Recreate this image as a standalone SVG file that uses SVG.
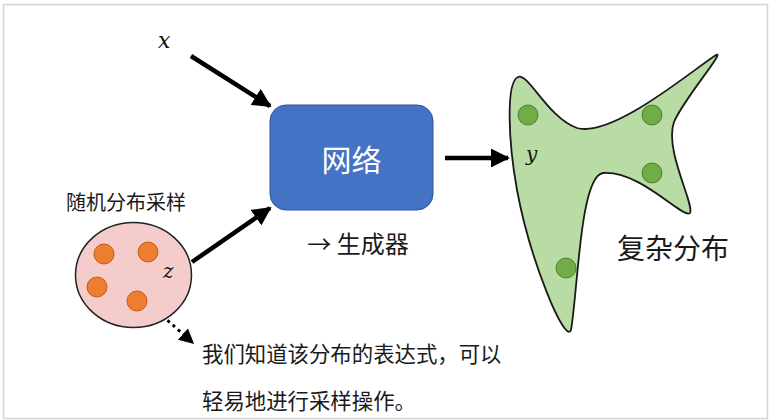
<svg xmlns="http://www.w3.org/2000/svg" width="771" height="420" viewBox="0 0 771 420">
<defs>
<style>
.cn{font-family:"Noto Sans CJK SC","Noto Sans",sans-serif;fill:#1a1a1a}
.var{font-family:"DejaVu Serif","Liberation Serif",serif;font-style:italic;fill:#111}
.arr{stroke:#000;stroke-width:4.5;fill:none}
.odot{fill:#ED7D31;stroke:#C55A11;stroke-width:1}
.gdot{fill:#70AD47;stroke:#507E32;stroke-width:1}
</style>
<marker id="ah" viewBox="0 0 10 10" refX="9" refY="5" markerWidth="4.2" markerHeight="4.2" orient="auto" markerUnits="strokeWidth">
<path d="M0,0 L10,5 L0,10 Z" fill="#000"/>
</marker>
<marker id="ahd" viewBox="0 0 10 10" refX="9" refY="5" markerWidth="5" markerHeight="5" orient="auto" markerUnits="strokeWidth">
<path d="M0,0 L10,5 L0,10 Z" fill="#000"/>
</marker>
</defs>
<rect x="0" y="0" width="771" height="420" fill="#fff"/>
<rect x="3.5" y="4.5" width="764" height="414" fill="none" stroke="#d4d4d4" stroke-width="1.5"/>

<g id="connectors">
<line class="arr" x1="191" y1="56" x2="270" y2="106" marker-end="url(#ah)"/>
<line class="arr" x1="192" y1="262" x2="270" y2="208" marker-end="url(#ah)"/>
<line class="arr" x1="445" y1="158" x2="508" y2="158" marker-end="url(#ah)"/>
<line x1="157" y1="311" x2="193" y2="343" stroke="#000" stroke-width="3" stroke-dasharray="3,4" marker-end="url(#ahd)"/>
</g>

<g id="x-label"><text class="var" x="158" y="48" font-size="22">x</text></g>

<g id="network">
<rect x="270" y="105" width="163" height="105" rx="16" fill="#4472C4" stroke="#2F528F" stroke-width="1"/>
<text x="351.5" y="171" text-anchor="middle" font-size="30" font-family="Noto Sans CJK SC,sans-serif" fill="#fff">网络</text>
</g>
<g id="generator-label"><text class="cn" x="358" y="253" text-anchor="middle" font-size="24">→ 生成器</text></g>

<g id="sampling">
<text class="cn" x="126" y="210" text-anchor="middle" font-size="20">随机分布采样</text>
<ellipse cx="133.5" cy="275" rx="58" ry="52.5" fill="#F5CCCC" stroke="#222" stroke-width="1.5"/>
<circle class="odot" cx="104" cy="254" r="10"/>
<circle class="odot" cx="148" cy="252" r="10"/>
<circle class="odot" cx="97" cy="287" r="10"/>
<circle class="odot" cx="137" cy="301" r="10"/>
<text class="var" x="163" y="278" font-size="20">z</text>
</g>

<g id="note">
<text class="cn" x="202" y="362" font-size="21.4">我们知道该分布的表达式，可以</text>
<text class="cn" x="202" y="409" font-size="21.4">轻易地进行采样操作。</text>
</g>

<g id="complex-dist">
<path d="M518,77 C528,72 548,118 577,128 C612,138 690,72 716,55 C726,50 683,100 674,122 C664,150 695,205 690,213 C684,220 640,170 603,173 C580,176 578,290 571,330 C565,345 530,260 517,190 C508,140 506,82 518,77 Z" fill="#B9DBA4" stroke="#1a1a1a" stroke-width="1.8"/>
<circle class="gdot" cx="528" cy="115" r="10"/>
<circle class="gdot" cx="652" cy="115" r="10"/>
<circle class="gdot" cx="652" cy="173" r="10"/>
<circle class="gdot" cx="566" cy="268" r="10"/>
<text class="var" x="526" y="161" font-size="20">y</text>
<text class="cn" x="617" y="259" font-size="28">复杂分布</text>
</g>
</svg>
